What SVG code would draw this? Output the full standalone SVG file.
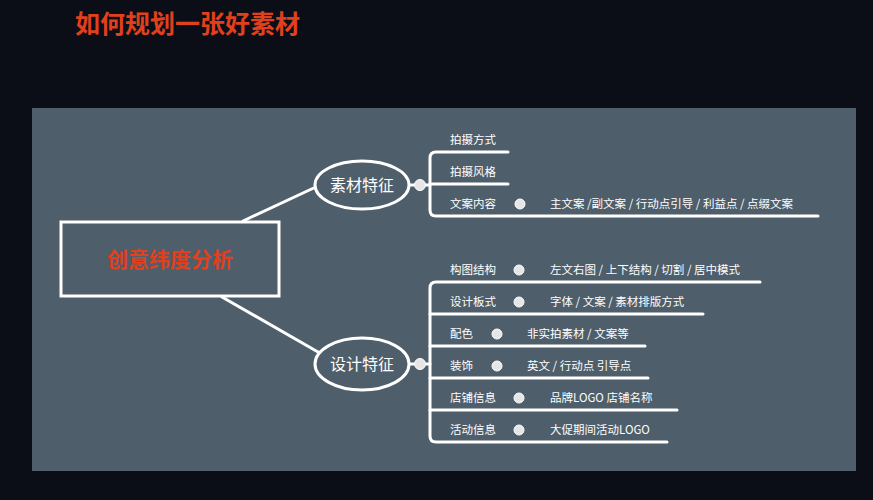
<svg xmlns="http://www.w3.org/2000/svg" width="873" height="500" viewBox="0 0 873 500">
<style>
text{font-family:"Noto Sans CJK SC","Noto Sans",sans-serif;fill:#fff}
.l{font-size:11.5px}
.ln{stroke:#fff;stroke-width:3;fill:none;stroke-linecap:round}
.m{fill:#e6e6e6;stroke:#fff;stroke-width:1}
</style>
<rect width="873" height="500" fill="#0b0d17"/>
<text x="75" y="33" style="font-size:25px;font-weight:bold;fill:#e0401c">如何规划一张好素材</text>
<rect x="32" y="108" width="824" height="363" fill="#4e5e6a"/>
<g id="connectors" class="ln">
<line x1="243" y1="221" x2="318" y2="186"/>
<line x1="222" y1="297" x2="318" y2="352"/>
<line x1="409" y1="185" x2="430" y2="185"/>
<path d="M508 152H436Q430 152 430 158V210Q430 216 436 216H818"/>
<line x1="430" y1="184" x2="508" y2="184"/>
<line x1="409" y1="364" x2="430" y2="364"/>
<path d="M760 282H436Q430 282 430 288V436Q430 442 436 442H667"/>
<line x1="430" y1="314" x2="703" y2="314"/>
<line x1="430" y1="346" x2="645" y2="346"/>
<line x1="430" y1="378" x2="648" y2="378"/>
<line x1="430" y1="410" x2="677" y2="410"/>
</g>
<g id="root"><rect x="61" y="222" width="218" height="74" fill="none" stroke="#fff" stroke-width="3"/>
<text x="170" y="267" text-anchor="middle" style="font-size:21px;font-weight:bold;fill:#e0401c">创意纬度分析</text></g>
<g id="n1"><ellipse cx="362" cy="185" rx="47" ry="24" fill="#4e5e6a" stroke="#fff" stroke-width="3"/>
<text x="362" y="191" text-anchor="middle" font-size="16">素材特征</text><circle cx="420" cy="185" r="5.5" class="m"/></g>
<g id="n2"><ellipse cx="362" cy="364" rx="47" ry="26" fill="#4e5e6a" stroke="#fff" stroke-width="3"/>
<text x="362" y="370" text-anchor="middle" font-size="16">设计特征</text><circle cx="420" cy="364" r="5.5" class="m"/></g>
<g id="a1"><text class="l" x="450" y="144">拍摄方式</text></g>
<g id="a2"><text class="l" x="450" y="176">拍摄风格</text></g>
<g id="a3"><text class="l" x="450" y="208">文案内容</text><circle cx="520" cy="204" r="5" class="m"/><text class="l" x="550" y="208">主文案 /副文案 / 行动点引导 / 利益点 / 点缀文案</text></g>
<g id="b1"><text class="l" x="450" y="274">构图结构</text><circle cx="519" cy="270" r="5" class="m"/><text class="l" x="550" y="274">左文右图 / 上下结构 / 切割 / 居中模式</text></g>
<g id="b2"><text class="l" x="450" y="306">设计板式</text><circle cx="519" cy="302" r="5" class="m"/><text class="l" x="550" y="306">字体 / 文案 / 素材排版方式</text></g>
<g id="b3"><text class="l" x="450" y="338">配色</text><circle cx="497" cy="334" r="5" class="m"/><text class="l" x="527" y="338">非实拍素材 / 文案等</text></g>
<g id="b4"><text class="l" x="450" y="370">装饰</text><circle cx="497" cy="366" r="5" class="m"/><text class="l" x="527" y="370">英文 / 行动点 引导点</text></g>
<g id="b5"><text class="l" x="450" y="402">店铺信息</text><circle cx="519" cy="398" r="5" class="m"/><text class="l" x="550" y="402">品牌LOGO 店铺名称</text></g>
<g id="b6"><text class="l" x="450" y="434">活动信息</text><circle cx="519" cy="430" r="5" class="m"/><text class="l" x="550" y="434">大促期间活动LOGO</text></g>
</svg>
